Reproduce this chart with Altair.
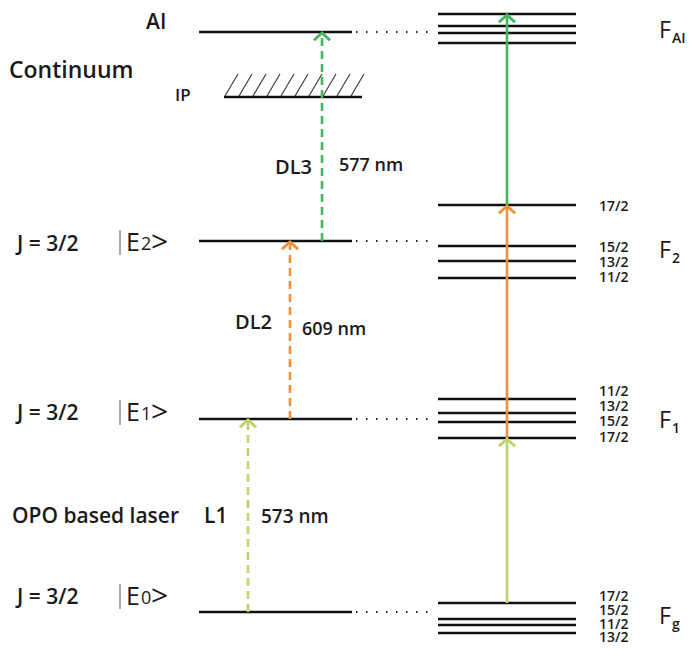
import altair as alt
import pandas as pd

# ---------------- data ----------------
# atomic levels (left), vertical position in picture units (down = lower energy)
left_names = ["AI", "E2", "E1", "E0"]
left_level = [32, 241, 419, 612]
left_span = [199, 352]
ip_level = 97
ip_span = [224, 362]
hatch_starts = [225, 239, 253, 267, 281, 295, 309, 323, 337, 351]

# hyperfine levels (right)
right_span = [438, 576]
fai_levels = [14, 26, 33, 43]
f2_levels = [205, 246, 261, 278]
f1_levels = [399, 413, 422, 438]
fg_levels = [603, 619, 625, 633]

f2_labels = ["17/2", "15/2", "13/2", "11/2"]
f2_label_pos = [207, 248, 263, 278]
f1_labels = ["11/2", "13/2", "15/2", "17/2"]
f1_label_pos = [392, 407, 422, 438]
fg_labels = ["17/2", "15/2", "11/2", "13/2"]
fg_label_pos = [597, 611, 625, 638]

# transitions
GREEN_L = "#bdd46c"
ORANGE = "#f0903a"
GREEN = "#45b562"
dashed_x = [248, 290, 322]
dashed_from = [612, 419, 241]
dashed_to = [419, 241, 32]
dashed_col = [GREEN_L, ORANGE, GREEN]
solid_x = 507
solid_from = [603, 438, 205]
solid_to = [438, 205, 14]

FONT = "Open Sans"

# ---------------- tables ----------------
xs = alt.Scale(domain=[8, 690], range=[0, 682])
ys = alt.Scale(domain=[8, 647], range=[0, 639])
X = lambda f: alt.X(f, type="quantitative", scale=xs, axis=None)
Y = lambda f: alt.Y(f, type="quantitative", scale=ys, axis=None)

lines = []
for y in left_level:
    lines.append(dict(x=left_span[0], x2=left_span[1], y=y, y2=y))
lines.append(dict(x=ip_span[0], x2=ip_span[1], y=ip_level, y2=ip_level))
for grp in (fai_levels, f2_levels, f1_levels, fg_levels):
    for y in grp:
        lines.append(dict(x=right_span[0], x2=right_span[1], y=y, y2=y))
lines_df = pd.DataFrame(lines)

hatch_df = pd.DataFrame([dict(x=h, x2=h + 13, y=ip_level - 1, y2=ip_level - 23) for h in hatch_starts])

dots_df = pd.DataFrame([dict(x=left_span[1] + 4, x2=right_span[0] - 3, y=y, y2=y) for y in left_level])

dash_df = pd.DataFrame([dict(x=x, x2=x, y=a, y2=b + 2, c=c)
                        for x, a, b, c in zip(dashed_x, dashed_from, dashed_to, dashed_col)])
solid_df = pd.DataFrame([dict(x=solid_x, x2=solid_x, y=a, y2=b + 2, c=c)
                         for a, b, c in zip(solid_from, solid_to, [GREEN_L, ORANGE, GREEN])])
heads_df = pd.DataFrame(
    [dict(x=x, y=b + 1, c=c) for x, b, c in zip(dashed_x, dashed_to, dashed_col)]
    + [dict(x=solid_x, y=b + 1, c=c) for b, c in zip(solid_to, [GREEN_L, ORANGE, GREEN])]
)

texts = [
    ("AI", 146, 23, 21, 600),
    ("Continuum", 9, 71, 23, 600),
    ("IP", 175, 96, 17, 600),
    ("DL3", 275, 168, 20, 600),
    ("577 nm", 339, 166, 18, 600),
    ("DL2", 235, 323, 20, 600),
    ("609 nm", 302, 330, 18, 600),
    ("OPO based laser", 12, 517, 21, 600),
    ("L1", 204, 517, 21, 600),
    ("573 nm", 261, 517, 19, 600),
]
for yy in (245, 414, 598):
    texts.append(("J = 3/2", 17, yy, 21, 600))
for yy, n in zip((243, 413, 597), ("2", "1", "0")):
    texts.append(("E", 126, yy, 25, 400))
    texts.append((n, 141, yy + 2, 18, 400))
    texts.append((">", 151, yy, 30, 400))
for lab, pos in zip(f2_labels + f1_labels + fg_labels, f2_label_pos + f1_label_pos + fg_label_pos):
    texts.append((lab, 599, pos, 14, 600))
for sub, yy in (("AI", 31), ("2", 251), ("1", 421), ("g", 617)):
    texts.append(("F", 659, yy, 23, 400))
    texts.append((sub, 672, yy + 8, 14, 600))
text_df = pd.DataFrame(texts, columns=["t", "x", "y", "fs", "w"])

bars_df = pd.DataFrame([dict(x=120, y=yy - 13, y2=yy + 12) for yy in (243, 413, 597)])

# ---------------- layers ----------------
level_layer = alt.Chart(lines_df).mark_rule(color="#111111", strokeWidth=2.6).encode(
    x=X("x"), x2="x2", y=Y("y"), y2="y2")
hatch_layer = alt.Chart(hatch_df).mark_rule(color="#333333", strokeWidth=1.1).encode(
    x=X("x"), x2="x2", y=Y("y"), y2="y2")
dots_layer = alt.Chart(dots_df).mark_rule(color="#222222", strokeWidth=2, strokeDash=[1.5, 8.5]).encode(
    x=X("x"), x2="x2", y=Y("y"), y2="y2")
dash_layer = alt.Chart(dash_df).mark_rule(strokeWidth=2.6, strokeDash=[8, 5]).encode(
    x=X("x"), x2="x2", y=Y("y"), y2="y2", color=alt.Color("c:N", scale=None))
solid_layer = alt.Chart(solid_df).mark_rule(strokeWidth=2.6).encode(
    x=X("x"), x2="x2", y=Y("y"), y2="y2", color=alt.Color("c:N", scale=None))
head_layer = alt.Chart(heads_df).mark_point(
    shape="M-1,0.9L0,0L1,0.9", filled=False, strokeWidth=3, size=260, opacity=1
).encode(x=X("x"), y=Y("y"), color=alt.Color("c:N", scale=None))
bar_layer = alt.Chart(bars_df).mark_rule(color="#555555", strokeWidth=1).encode(
    x=X("x"), y=Y("y"), y2="y2")

text_layers = []
for w in text_df["w"].unique():
    sub = text_df[text_df["w"] == w]
    text_layers.append(
        alt.Chart(sub).mark_text(align="left", baseline="middle", font=FONT, fontWeight=int(w), color="#1a1a1a")
        .encode(x=X("x"), y=Y("y"), text="t:N", size=alt.Size("fs:Q", scale=None))
    )

chart = alt.layer(
    hatch_layer, level_layer, dots_layer, dash_layer, solid_layer, head_layer, bar_layer, *text_layers
).properties(
    width=682, height=639, autosize=alt.AutoSizeParams(type="none"), padding=0
).configure_view(strokeWidth=0)

chart.save("out.html", embed_options={"renderer": "svg", "actions": False})
